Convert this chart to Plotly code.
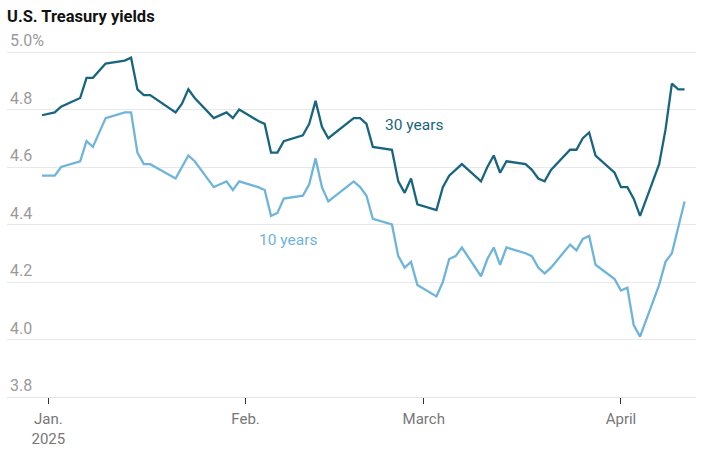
import plotly.graph_objects as go

dates = [
    "2024-12-31",
    "2025-01-02", "2025-01-03", "2025-01-06", "2025-01-07", "2025-01-08", "2025-01-10",
    "2025-01-13", "2025-01-14", "2025-01-15", "2025-01-16", "2025-01-17",
    "2025-01-21", "2025-01-22", "2025-01-23", "2025-01-24",
    "2025-01-27", "2025-01-28", "2025-01-29", "2025-01-30", "2025-01-31",
    "2025-02-03", "2025-02-04", "2025-02-05", "2025-02-06", "2025-02-07",
    "2025-02-10", "2025-02-11", "2025-02-12", "2025-02-13", "2025-02-14",
    "2025-02-18", "2025-02-19", "2025-02-20", "2025-02-21",
    "2025-02-24", "2025-02-25", "2025-02-26", "2025-02-27", "2025-02-28",
    "2025-03-03", "2025-03-04", "2025-03-05", "2025-03-06", "2025-03-07",
    "2025-03-10", "2025-03-11", "2025-03-12", "2025-03-13", "2025-03-14",
    "2025-03-17", "2025-03-18", "2025-03-19", "2025-03-20", "2025-03-21",
    "2025-03-24", "2025-03-25", "2025-03-26", "2025-03-27", "2025-03-28",
    "2025-03-31", "2025-04-01", "2025-04-02", "2025-04-03", "2025-04-04",
    "2025-04-07", "2025-04-08", "2025-04-09", "2025-04-10", "2025-04-11",
]

yield_30y = [
    4.78,
    4.79, 4.81, 4.84, 4.91, 4.91, 4.96,
    4.97, 4.98, 4.87, 4.85, 4.85,
    4.79, 4.82, 4.87, 4.84,
    4.77, 4.78, 4.79, 4.77, 4.80,
    4.76, 4.75, 4.65, 4.65, 4.69,
    4.71, 4.75, 4.83, 4.74, 4.70,
    4.77, 4.77, 4.75, 4.67,
    4.66, 4.55, 4.51, 4.56, 4.47,
    4.45, 4.53, 4.57, 4.59, 4.61,
    4.55, 4.60, 4.64, 4.58, 4.62,
    4.61, 4.59, 4.56, 4.55, 4.59,
    4.66, 4.66, 4.70, 4.72, 4.64,
    4.58, 4.53, 4.53, 4.49, 4.43,
    4.61, 4.73, 4.89, 4.87, 4.87,
]

yield_10y = [
    4.57,
    4.57, 4.60, 4.62, 4.69, 4.67, 4.77,
    4.79, 4.79, 4.65, 4.61, 4.61,
    4.56, 4.60, 4.64, 4.62,
    4.53, 4.54, 4.55, 4.52, 4.55,
    4.53, 4.52, 4.43, 4.44, 4.49,
    4.50, 4.54, 4.63, 4.53, 4.48,
    4.55, 4.53, 4.50, 4.42,
    4.40, 4.29, 4.25, 4.27, 4.19,
    4.15, 4.20, 4.28, 4.29, 4.32,
    4.22, 4.28, 4.32, 4.26, 4.32,
    4.30, 4.29, 4.25, 4.23, 4.25,
    4.33, 4.31, 4.35, 4.36, 4.26,
    4.21, 4.17, 4.18, 4.05, 4.01,
    4.19, 4.27, 4.30, 4.39, 4.48,
]

y_ticks = [3.8, 4.0, 4.2, 4.4, 4.6, 4.8, 5.0]
y_tick_labels = ["3.8", "4.0", "4.2", "4.4", "4.6", "4.8", "5.0%"]
x_ticks = ["2025-01-01", "2025-02-01", "2025-03-01", "2025-04-01"]
x_tick_labels = ["Jan.<br>2025", "Feb.", "March", "April"]

series_names = ["30 years", "10 years"]
DARK = "#196580"
LIGHT = "#6fb4da"
FONT = "Roboto"

fig = go.Figure()
fig.add_trace(go.Scatter(x=dates, y=yield_10y, mode="lines", name=series_names[1],
                         line=dict(color=LIGHT, width=2.3), hoverinfo="skip"))
fig.add_trace(go.Scatter(x=dates, y=yield_30y, mode="lines", name=series_names[0],
                         line=dict(color=DARK, width=2.3), hoverinfo="skip"))

fig.add_annotation(x="2025-02-27 12:00", y=4.746, xref="x", yref="y",
                   text=series_names[0], showarrow=False,
                   font=dict(family=FONT, size=15.5, color=DARK))
fig.add_annotation(x="2025-02-07 16:00", y=4.346, xref="x", yref="y",
                   text=series_names[1], showarrow=False,
                   font=dict(family=FONT, size=15.5, color=LIGHT))

fig.update_layout(
    width=719, height=454,
    margin=dict(l=7, r=23, t=29, b=57),
    paper_bgcolor="white", plot_bgcolor="white",
    showlegend=False,
    font=dict(family=FONT),
    title=dict(text="<b>U.S. Treasury yields</b>", x=7/719, xref="container", xanchor="left",
               y=1 - 16/454, yref="container", yanchor="middle",
               font=dict(family=FONT, size=16.5, color="#121212")),
    xaxis=dict(type="date", range=["2024-12-25 12:00", "2025-04-12 19:00"],
               tickvals=x_ticks, ticktext=x_tick_labels,
               ticks="outside", ticklen=6, tickwidth=1, tickcolor="#333333",
               ticklabelstandoff=2,
               showgrid=False, zeroline=False,
               showline=True, linecolor="#e4e4e4", linewidth=1,
               tickfont=dict(family=FONT, size=15, color="#777777")),
    yaxis=dict(range=[3.8, 5.08], tickvals=y_ticks, ticktext=y_tick_labels,
               ticklabelposition="inside top", ticks="",
               showgrid=True, gridcolor="#e8e8e8", gridwidth=1, zeroline=False,
               showline=False,
               tickfont=dict(family=FONT, size=16, color="#9a9a9a")),
)

fig.write_html("out.html", config={"displayModeBar": False},
               post_script="document.body.style.margin='0';document.body.style.padding='0';")
